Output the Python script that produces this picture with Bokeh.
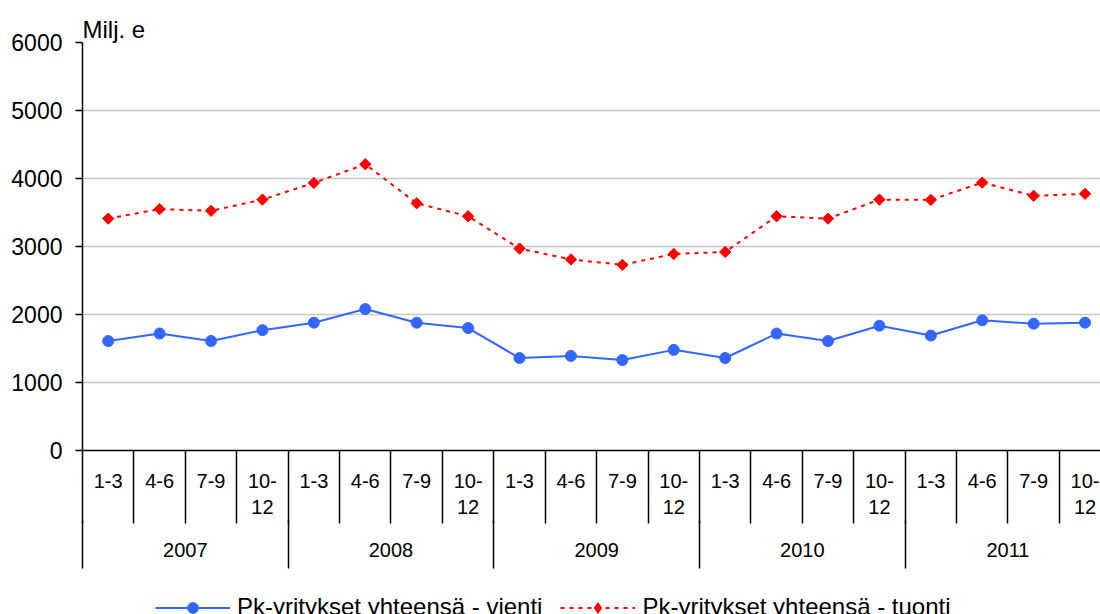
import numpy as np
from bokeh.plotting import figure
from bokeh.layouts import column
from bokeh.models import Range1d, LinearAxis, FixedTicker, Legend, LegendItem
from bokeh.embed import file_html
from bokeh.resources import INLINE

years = ["2007", "2008", "2009", "2010", "2011"]
quarters = ["1-3", "4-6", "7-9", "10-\n12"]
vienti = [1610, 1720, 1610, 1770, 1880, 2080, 1880, 1800, 1360, 1390,
          1330, 1480, 1360, 1720, 1610, 1835, 1690, 1915, 1865, 1880]
tuonti = [3410, 3550, 3525, 3690, 3935, 4210, 3635, 3445, 2970, 2810,
          2730, 2890, 2920, 3445, 3410, 3690, 3685, 3940, 3745, 3775]
y_ticks = [0, 1000, 2000, 3000, 4000, 5000, 6000]
series_names = ["Pk-yritykset yhteensä - vienti", "Pk-yritykset yhteensä - tuonti"]

FONT = "Liberation Sans"
BLUE = "#3366ff"
RED = "#ff0000"

n = len(years) * len(quarters)
x = np.arange(n) + 0.5
q_bounds = list(range(n + 1))
q_labels = {float(i + 0.5): quarters[i % len(quarters)] for i in range(n)}
y_centers = [len(quarters) * (k + 0.5) for k in range(len(years))]
y_bounds = [len(quarters) * k for k in range(len(years) + 1)]
y_labels = {float(c): yr for c, yr in zip(y_centers, years)}

p = figure(width=1100, height=586, output_backend="svg", toolbar_location=None,
           x_range=Range1d(0, 19.8), y_range=Range1d(0, 6000),
           x_axis_location=None, title="Milj. e")
p.min_border_left = 82
p.min_border_right = 0
p.min_border_top = 42
p.min_border_bottom = 136
p.outline_line_color = None
p.background_fill_color = "white"
p.border_fill_color = "white"

p.title.text_font = FONT
p.title.text_font_size = "24px"
p.title.text_font_style = "normal"
p.title.align = "left"
p.title.standoff = 0
p.title.text_color = "black"

# y axis
ya = p.yaxis[0]
ya.ticker = FixedTicker(ticks=y_ticks)
ya.major_label_text_font = FONT
ya.major_label_text_font_size = "23px"
ya.major_label_text_color = "black"
ya.major_tick_out = 7
ya.major_tick_in = 0
ya.minor_tick_line_color = None
ya.axis_line_color = "black"
ya.axis_line_width = 1.5
ya.major_tick_line_color = "black"
ya.major_tick_line_width = 1.5
ya.major_label_standoff = 13

p.xgrid.visible = False
p.ygrid.ticker = FixedTicker(ticks=y_ticks[1:])
p.ygrid.grid_line_color = "#c8c8c8"
p.ygrid.grid_line_width = 1.5

# quarter axis
qa = LinearAxis(ticker=FixedTicker(ticks=list(x), minor_ticks=q_bounds),
                major_label_overrides=q_labels)
qa.major_label_text_font = FONT
qa.major_label_text_font_size = "20px"
qa.major_label_text_color = "black"
qa.major_label_text_line_height = 1.2
qa.major_tick_out = 0
qa.major_tick_in = 0
qa.major_tick_line_color = None
qa.minor_tick_out = 73
qa.minor_tick_in = 0
qa.minor_tick_line_color = "black"
qa.minor_tick_line_width = 1.5
qa.axis_line_color = "black"
qa.axis_line_width = 1.5
qa.major_label_standoff = 19 - 73
p.add_layout(qa, "below")

# year axis
ya2 = LinearAxis(ticker=FixedTicker(ticks=y_centers, minor_ticks=y_bounds),
                 major_label_overrides=y_labels)
ya2.major_label_text_font = FONT
ya2.major_label_text_font_size = "20px"
ya2.major_label_text_color = "black"
ya2.major_tick_out = 0
ya2.major_tick_in = 0
ya2.major_tick_line_color = None
ya2.minor_tick_out = 48
ya2.minor_tick_in = 0
ya2.minor_tick_line_color = "black"
ya2.minor_tick_line_width = 1.5
ya2.axis_line_color = None
ya2.major_label_standoff = 22 - 48
p.add_layout(ya2, "below")

# series
p.line(x, vienti, line_color=BLUE, line_width=2)
p.scatter(x, vienti, marker="circle", size=11, fill_color=BLUE, line_color=BLUE)
p.line(x, tuonti, line_color=RED, line_width=2, line_dash="4 5")
p.scatter(x, tuonti, marker="square", size=8, angle=np.pi / 4,
          fill_color=RED, line_color=RED)

# legend strip (its series lie outside its view; only the legend shows)
lg = figure(width=1100, height=28, output_backend="svg", toolbar_location=None,
            x_range=Range1d(0, 19.8), y_range=Range1d(-2, -1),
            x_axis_location=None, y_axis_location=None, min_border=0)
lg.outline_line_color = None
lg.xgrid.visible = False
lg.ygrid.visible = False
k1 = lg.line(x, vienti, line_color=BLUE, line_width=2)
k1m = lg.scatter(x, vienti, marker="circle", size=11, fill_color=BLUE, line_color=BLUE)
k2 = lg.line(x, tuonti, line_color=RED, line_width=2, line_dash="4 5")
k2m = lg.scatter(x, tuonti, marker="diamond", size=12,
                 fill_color=RED, line_color=RED)

legend = Legend(items=[LegendItem(label=series_names[0], renderers=[k1, k1m]),
                       LegendItem(label=series_names[1], renderers=[k2, k2m])],
                orientation="horizontal", location=(73, -7),
                glyph_width=75, glyph_height=27, label_standoff=7, spacing=18,
                padding=0, margin=0, border_line_color=None,
                background_fill_alpha=0, label_text_font=FONT,
                label_text_font_size="24px", label_text_color="black")
lg.add_layout(legend, "center")

layout = column(p, lg, spacing=0)
open("out.html", "w").write(file_html(layout, INLINE))
